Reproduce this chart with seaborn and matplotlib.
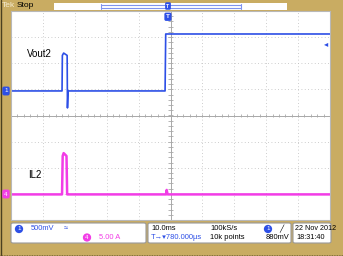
import numpy as np
import pandas as pd
import matplotlib
matplotlib.use("Agg")
import matplotlib.pyplot as plt
import seaborn as sns
from matplotlib.patches import FancyBboxPatch, Rectangle

# ---- data (time in ms, 10 ms/div; amplitude in screen divisions) ----
vout2_t = [0, 16.0, 16.1, 16.5, 17.6, 17.7, 17.9, 48.3, 48.5, 100]
vout2_v = [0.94, 0.94, 2.30, 2.39, 2.30, 0.29, 0.94, 0.94, 3.12, 3.12]
il2_t = [0, 16.0, 16.2, 16.5, 17.4, 17.6, 17.8, 48.6, 48.8, 49.1, 100]
il2_v = [-3.02, -3.02, -1.55, -1.44, -1.55, -3.02, -3.02, -3.02, -2.85, -3.02, -3.02]
trace_labels = ["Vout2", "IL2"]
status_row1 = ["500mV", "10.0ms", "100kS/s", "880mV"]

sns.set_theme(style="white")
plt.rcParams['font.family'] = ['Liberation Sans', 'DejaVu Sans']

W, H = 343, 256
TAN = "#C9AC62"
BLUE = "#2D4FE6"
MAG = "#F23CE6"
fig = plt.figure(figsize=(W / 100, H / 100), dpi=100, facecolor=TAN)

def fx(x):
    return x / W

def fy(y):
    return 1 - y / H

# plot area
L, R, T, B = 11, 330, 11, 220
ax = fig.add_axes([fx(L), fy(B), (R - L) / W, (B - T) / H])
ax.set_facecolor("white")
ax.set_xlim(0, 100)
ax.set_ylim(-4, 4)
ax.set_xticks([]); ax.set_yticks([])
for s in ax.spines.values():
    s.set_color("#B8B8B8"); s.set_linewidth(0.8)

# graticule
for k in range(1, 10):
    if k != 5:
        ax.axvline(k * 10, color="#BDBDBD", lw=0.6, ls=(0, (1, 3)), zorder=0)
for k in range(-3, 4):
    if k != 0:
        ax.axhline(k, color="#BDBDBD", lw=0.6, ls=(0, (1, 3)), zorder=0)
ax.axvline(50, color="#A8A8A8", lw=0.7, zorder=0)
ax.axhline(0, color="#A8A8A8", lw=0.7, zorder=0)
xt = np.arange(0, 100.01, 2)
ax.vlines(xt, -0.07, 0.07, color="#A8A8A8", lw=0.6, zorder=0)
yt = np.arange(-4, 4.01, 0.2)
ax.hlines(yt, 49.3, 50.7, color="#A8A8A8", lw=0.6, zorder=0)

# traces
df1 = pd.DataFrame({"t": vout2_t, "v": vout2_v})
df2 = pd.DataFrame({"t": il2_t, "v": il2_v})
sns.lineplot(data=df1, x="t", y="v", sort=False, color=BLUE, lw=1.2, ax=ax)
sns.lineplot(data=df2, x="t", y="v", sort=False, color=MAG, lw=1.8, ax=ax)
ax.set_xlabel(""); ax.set_ylabel("")
ax.set_xlim(0, 100); ax.set_ylim(-4, 4)

ax.text(5.0, 2.36, trace_labels[0], fontsize=7, color="black", va="center", ha="left")
ax.text(5.3, -2.28, trace_labels[1], fontsize=7, color="black", va="center", ha="left")

# trigger level arrow on right
ax.text(99.5, 2.7, "\u25C2", color=BLUE, fontsize=6, ha="right", va="center")
# trigger position marker
ax.text(49.2, 3.78, "T", color="white", fontsize=4.5, fontweight="bold", ha="center", va="center",
        bbox=dict(boxstyle="round,pad=0.15", fc=BLUE, ec=BLUE))

# channel markers on left
fig.text(fx(6), fy(91), "1", color="white", fontsize=4.5, ha="center", va="center",
         bbox=dict(boxstyle="round,pad=0.2", fc=BLUE, ec=BLUE))
fig.text(fx(6), fy(194), "4", color="white", fontsize=4.5, ha="center", va="center",
         bbox=dict(boxstyle="round,pad=0.2", fc=MAG, ec=MAG))

# top bar
fig.text(fx(2), fy(5.5), "Tek", color="#F4EBD0", fontsize=6, ha="left", va="center")
fig.text(fx(17), fy(5.5), "Stop", color="black", fontsize=6, ha="left", va="center")
fig.patches.append(Rectangle((fx(54), fy(10)), (287 - 54) / W, 7 / H, transform=fig.transFigure,
                             fc="white", ec="none"))
fig.add_artist(plt.Line2D([fx(101), fx(241)], [fy(5), fy(5)], color="#7F93EE", lw=0.8))
fig.add_artist(plt.Line2D([fx(101), fx(241)], [fy(7.5), fy(7.5)], color="#7F93EE", lw=0.8))
fig.add_artist(plt.Line2D([fx(101), fx(101)], [fy(4), fy(8.5)], color="#7F93EE", lw=0.8))
fig.add_artist(plt.Line2D([fx(241), fx(241)], [fy(4), fy(8.5)], color="#7F93EE", lw=0.8))
fig.text(fx(168), fy(6), "T", color="white", fontsize=3.8, fontweight="bold", ha="center", va="center",
         bbox=dict(boxstyle="round,pad=0.1", fc=BLUE, ec=BLUE))

# status boxes
for x0, x1 in [(11, 146), (148, 291), (293, 331)]:
    fig.patches.append(FancyBboxPatch((fx(x0), fy(243)), (x1 - x0) / W, 20 / H,
                                      boxstyle="round,pad=0,rounding_size=0.006",
                                      transform=fig.transFigure, fc="white", ec="#9A9A9A", lw=0.8))
fs = 5.4
r1, r2 = fy(229), fy(237.5)
fig.text(fx(19), r1, "1", color="white", fontsize=4.5, ha="center", va="center",
         bbox=dict(boxstyle="circle,pad=0.15", fc=BLUE, ec=BLUE))
fig.text(fx(31), r1, status_row1[0], color=BLUE, fontsize=fs, ha="left", va="center")
fig.text(fx(64), r1, "\u2248", color=BLUE, fontsize=fs, ha="left", va="center")
fig.text(fx(87), r2, "4", color="white", fontsize=4.5, ha="center", va="center",
         bbox=dict(boxstyle="circle,pad=0.15", fc=MAG, ec=MAG))
fig.text(fx(99), r2, "5.00 A", color=MAG, fontsize=fs, ha="left", va="center")

fig.text(fx(151), r1, status_row1[1], color="black", fontsize=fs, ha="left", va="center")
fig.text(fx(210), r1, status_row1[2], color="black", fontsize=fs, ha="left", va="center")
fig.text(fx(268), r1, "1", color="white", fontsize=4.5, ha="center", va="center",
         bbox=dict(boxstyle="circle,pad=0.15", fc=BLUE, ec=BLUE))
fig.text(fx(279), r1, "\u2571", color="black", fontsize=5, ha="left", va="center")
fig.text(fx(151), r2, "T\u2192\u25BE780.000\u00B5s", color=BLUE, fontsize=fs, ha="left", va="center")
fig.text(fx(210), r2, "10k points", color="black", fontsize=fs, ha="left", va="center")
fig.text(fx(266), r2, status_row1[3], color="black", fontsize=fs, ha="left", va="center")

fig.text(fx(295), r1, "22 Nov 2012", color="black", fontsize=5.2, ha="left", va="center")
fig.text(fx(296), r2, "18:31:40", color="black", fontsize=5.2, ha="left", va="center")

# dark outer edges
fig.add_artist(plt.Line2D([fx(0.5), fx(0.5)], [0, 1], color="#4A4020", lw=1))
fig.add_artist(plt.Line2D([0, 1], [fy(254.5), fy(254.5)], color="#6A5A30", lw=0.6, ls=(0, (1, 1))))

fig.savefig("out.png", dpi=100, facecolor=TAN)
